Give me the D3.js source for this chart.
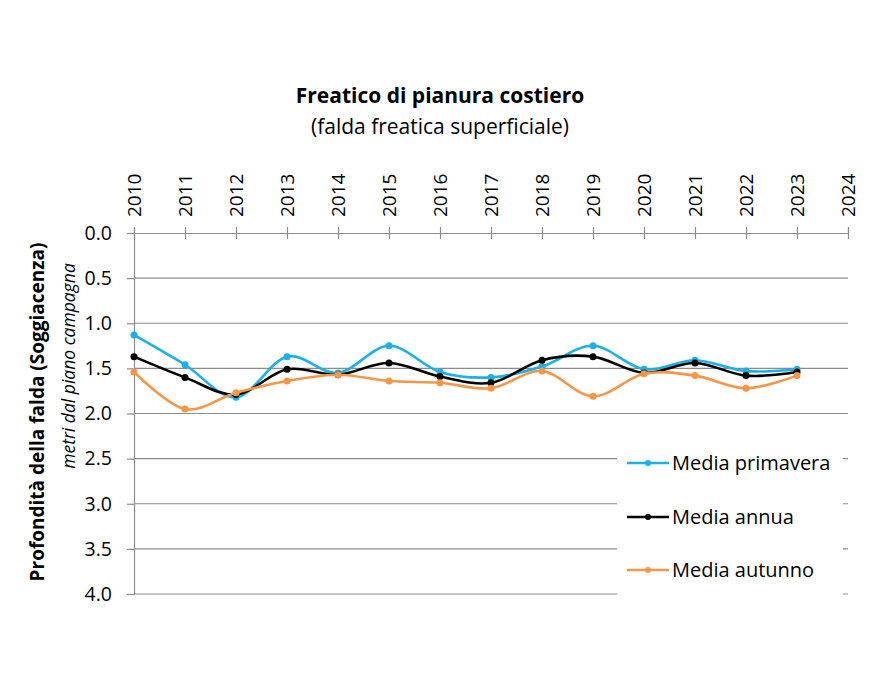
<!DOCTYPE html>
<html>
<head>
<meta charset="utf-8">
<script src="https://cdn.jsdelivr.net/npm/d3@7"></script>
<style>
  body { margin: 0; background: #fff; }
  text { font-family: "Open Sans", "Noto Sans", sans-serif; fill: #000; }
</style>
</head>
<body>
<svg id="chart" width="882" height="682"></svg>
<script>
// years on the top axis (2024 has no data)
var years = [2010, 2011, 2012, 2013, 2014, 2015, 2016, 2017, 2018, 2019, 2020, 2021, 2022, 2023, 2024];
var dataYears = [2010, 2011, 2012, 2013, 2014, 2015, 2016, 2017, 2018, 2019, 2020, 2021, 2022, 2023];

// depth in metres
var primavera = [1.13, 1.46, 1.82, 1.37, 1.55, 1.25, 1.54, 1.60, 1.48, 1.25, 1.51, 1.41, 1.53, 1.51];
var annua     = [1.37, 1.60, 1.79, 1.51, 1.57, 1.44, 1.59, 1.66, 1.41, 1.37, 1.55, 1.44, 1.58, 1.54];
var autunno   = [1.54, 1.95, 1.77, 1.64, 1.57, 1.64, 1.66, 1.72, 1.53, 1.81, 1.56, 1.58, 1.72, 1.58];

var yTicks = [0, 0.5, 1, 1.5, 2, 2.5, 3, 3.5, 4];

var series = [
  { name: "Media primavera", values: primavera, color: "#1ab0ea" },
  { name: "Media annua", values: annua, color: "#000000" },
  { name: "Media autunno", values: autunno, color: "#f79646" }
];

var svg = d3.select("#chart");
// plot box (note: "top" is a window global, so use other names)
var pLeft = 134, pRight = 848, pTop = 233, pBottom = 594;

var x = d3.scaleLinear().domain([2010, 2024]).range([pLeft, pRight]);
var y = d3.scaleLinear().domain([0, 4]).range([pTop, pBottom]);

// titles
svg.append("text").attr("x", 440).attr("y", 103).attr("text-anchor", "middle")
  .style("font-size", "21px").style("font-weight", "bold")
  .text("Freatico di pianura costiero");
svg.append("text").attr("x", 440).attr("y", 134).attr("text-anchor", "middle")
  .style("font-size", "21px")
  .text("(falda freatica superficiale)");

// gridlines
svg.append("g").selectAll("line").data(yTicks.slice(1)).enter().append("line")
  .attr("x1", pLeft).attr("x2", pRight)
  .attr("y1", function(d) { return y(d); }).attr("y2", function(d) { return y(d); })
  .attr("stroke", "#8c8c8c").attr("stroke-width", 1.2);

// left axis
var yAxis = svg.append("g").attr("transform", "translate(" + pLeft + ",0)")
  .call(d3.axisLeft(y).tickValues(yTicks).tickFormat(d3.format(".1f")).tickSize(7).tickPadding(15));
yAxis.select(".domain").attr("stroke", "#8c8c8c").attr("stroke-width", 1.2);
yAxis.selectAll(".tick line").attr("stroke", "#8c8c8c").attr("stroke-width", 1.2);
yAxis.selectAll(".tick text").style("font-size", "19.5px").style("font-family", "'Open Sans', sans-serif").attr("fill", "#000");

// top axis with crossing ticks
var xAxis = svg.append("g").attr("transform", "translate(0," + pTop + ")")
  .call(d3.axisTop(x).tickValues(years).tickFormat(d3.format("d")).tickSize(5));
xAxis.select(".domain").attr("stroke", "#8c8c8c").attr("stroke-width", 1.2);
xAxis.selectAll(".tick line").attr("stroke", "#8c8c8c").attr("stroke-width", 1.2).attr("y2", -6).attr("y1", 6);
xAxis.selectAll(".tick text")
  .attr("transform", "rotate(-90)")
  .attr("x", 16).attr("y", 0).attr("dy", "0.35em")
  .attr("text-anchor", "start")
  .style("font-size", "19px").style("font-family", "'Open Sans', sans-serif").attr("fill", "#000");

// axis titles
svg.append("text").attr("transform", "translate(44,412) rotate(-90)").attr("text-anchor", "middle")
  .style("font-size", "19px").style("font-weight", "bold")
  .text("Profondità della falda (Soggiacenza)");
svg.append("text").attr("transform", "translate(75,366) rotate(-90)").attr("text-anchor", "middle")
  .style("font-size", "17.5px").style("font-style", "italic")
  .text("metri dal piano campagna");

// lines
var line = d3.line()
  .x(function(d, i) { return x(dataYears[i]); })
  .y(function(d) { return y(d); })
  .curve(d3.curveCatmullRom.alpha(0));

series.forEach(function(s) {
  var g = svg.append("g");
  g.append("path").datum(s.values).attr("d", line)
    .attr("fill", "none").attr("stroke", s.color).attr("stroke-width", 2.6);
  g.selectAll("circle").data(s.values).enter().append("circle")
    .attr("cx", function(d, i) { return x(dataYears[i]); })
    .attr("cy", function(d) { return y(d); })
    .attr("r", 3.5).attr("fill", s.color);
});

// legend
var legend = svg.append("g");
legend.append("rect").attr("x", 617).attr("y", 440).attr("width", 226).attr("height", 160).attr("fill", "#fff");
var ly = [463, 517, 570];
series.forEach(function(s, i) {
  legend.append("line").attr("x1", 627).attr("x2", 669).attr("y1", ly[i]).attr("y2", ly[i])
    .attr("stroke", s.color).attr("stroke-width", 2.6);
  legend.append("circle").attr("cx", 648).attr("cy", ly[i]).attr("r", 3).attr("fill", s.color);
  legend.append("text").attr("x", 672).attr("y", ly[i]).attr("dy", "0.35em")
    .style("font-size", "20px").text(s.name);
});
</script>
</body>
</html>
